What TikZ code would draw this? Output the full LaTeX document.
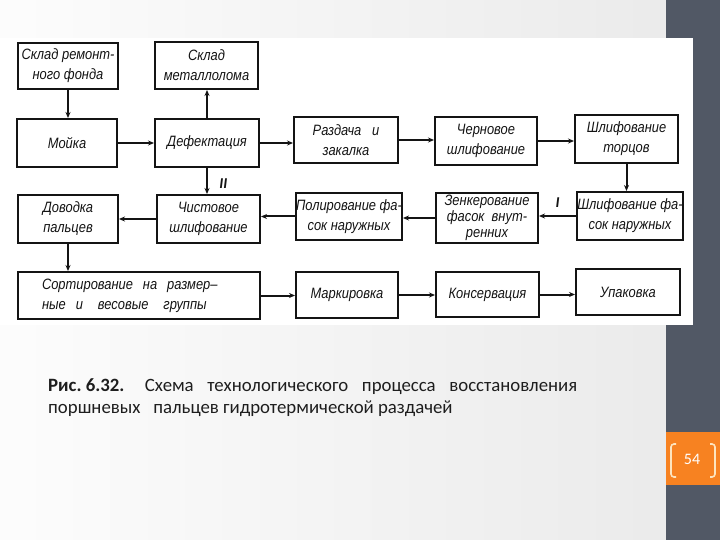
\documentclass[tikz,border=0pt]{standalone}
\usepackage{fontspec}
\setmainfont{Carlito}
\newfontfamily\dfont[FakeStretch=0.86]{Liberation Sans}
\usetikzlibrary{arrows.meta}
\definecolor{barc}{RGB}{81,88,101}
\definecolor{orng}{RGB}{247,130,33}
\definecolor{brk}{RGB}{253,228,190}
\definecolor{ink}{RGB}{20,20,20}
\definecolor{captc}{RGB}{30,30,30}
\begin{document}
\begin{tikzpicture}[x=1pt,y=-1pt,
  box/.style={draw=ink, line width=2pt, inner sep=0pt, align=center,
    font=\dfont\itshape\fontsize{15}{20}\selectfont, text=ink},
  arr/.style={draw=ink, line width=2pt, -{Stealth[length=6pt,width=5pt]}},
  roman/.style={font=\bfseries\itshape\fontsize{15}{15}\selectfont, text=ink}]
\useasboundingbox (0,0) rectangle (720,540);
% slide background
\shade[left color=gray!2, right color=gray!16] (0,0) rectangle (666,540);
\fill[barc] (666,0) rectangle (720,540);
\fill[white] (0,38) rectangle (693,325);
\fill[orng] (666,432) rectangle (720,485);
% boxes
\node[box, minimum width=100pt, minimum height=46pt] (skladR) at (68,66) {Склад ремонт-\\ного фонда};
\node[box, minimum width=103pt, minimum height=47pt] (skladM) at (206.5,65.5) {Склад\\металлолома};
\node[box, minimum width=100pt, minimum height=48pt] (moyka) at (67,143) {Мойка};
\node[box, minimum width=104pt, minimum height=48pt] (defekt) at (207,143) {Дефектация};
\node[box, minimum width=104pt, minimum height=46pt] (razd) at (346,140) {Раздача\ \ \ и\\закалка};
\node[box, minimum width=102pt, minimum height=48pt] (chern) at (486,141) {Черновое\\шлифование};
\node[box, minimum width=103pt, minimum height=48pt] (tortsy) at (626.5,139) {Шлифование\\торцов};
\node[box, minimum width=100pt, minimum height=48pt] (dovod) at (68,219) {Доводка\\пальцев};
\node[box, minimum width=103pt, minimum height=48pt] (chist) at (208.5,219) {Чистовое\\шлифование};
\node[box, minimum width=106pt, minimum height=47pt] (polir) at (349,216.5) {Полирование фа-\\сок наружных};
\node[box, minimum width=102pt, minimum height=50pt, font=\dfont\itshape\fontsize{15}{16}\selectfont] (zenk) at (487,218) {Зенкерование\\фасок\ \ внут-\\ренних};
\node[box, minimum width=106pt, minimum height=48pt] (shlfas) at (630,216) {Шлифование фа-\\сок наружных};
\node[box, minimum width=242pt, minimum height=47pt, text width=194pt, align=left] (sort) at (139,295.5) {Сортирование\ \ на\ \ размер–\\ные\ \ и\ \ \ весовые\ \ \ группы};
\node[box, minimum width=102pt, minimum height=46pt] (mark) at (347,295) {Маркировка};
\node[box, minimum width=103pt, minimum height=45pt] (kons) at (487.5,294.5) {Консервация};
\node[box, minimum width=104pt, minimum height=46pt] (upak) at (628,292) {Упаковка};
% connectors
\draw[arr] (skladR.south) -- (skladR.south |- moyka.north);
\draw[arr] (moyka.east) -- (moyka.east -| defekt.west);
\draw[arr] (defekt.north) -- (defekt.north |- skladM.south);
\draw[arr] (defekt.east) -- (defekt.east -| razd.west);
\draw[arr] (razd.east) -- (razd.east -| chern.west);
\draw[arr] (chern.east) -- (chern.east -| tortsy.west);
\draw[arr] (tortsy.south) -- (tortsy.south |- shlfas.north);
\draw[arr] (shlfas.west) -- node[roman, above=4pt] (lI) {I} (shlfas.west -| zenk.east);
\draw[arr] (zenk.west) -- (zenk.west -| polir.east);
\draw[arr] (polir.west) -- (polir.west -| chist.east);
\draw[arr] (defekt.south) -- node[roman, right=8pt, yshift=-3pt] (lII) {II} (defekt.south |- chist.north);
\draw[arr] (chist.west) -- (chist.west -| dovod.east);
\draw[arr] (dovod.south) -- (dovod.south |- sort.north);
\draw[arr] (sort.east) -- (sort.east -| mark.west);
\draw[arr] (mark.east) -- (mark.east -| kons.west);
\draw[arr] (kons.east) -- (kons.east -| upak.west);
% caption
\node[anchor=base west, inner sep=0pt, font=\fontsize{18.8}{22}\selectfont, text=captc] (cap1) at (48,391)
  {\makebox[529pt][s]{\textbf{\mbox{Рис.\ 6.32.}}\ \ \ Схема\ \ технологического\ \ процесса\ \ восстановления}};
\node[anchor=base west, inner sep=0pt, font=\fontsize{18.8}{22}\selectfont, text=captc] (cap2) at (48,413)
  {поршневых\ \ \ пальцев гидротермической раздачей};
% page number
\node[text=white, font=\fontsize{16}{18}\selectfont] (pg) at (692,459) {54};
\draw[brk, line width=1.6pt, rounded corners=3pt] (676,444) -- (671,444) -- (671,477) -- (676,477);
\draw[brk, line width=1.6pt, rounded corners=3pt] (710,444) -- (715,444) -- (715,477) -- (710,477);
\end{tikzpicture}
\end{document}
